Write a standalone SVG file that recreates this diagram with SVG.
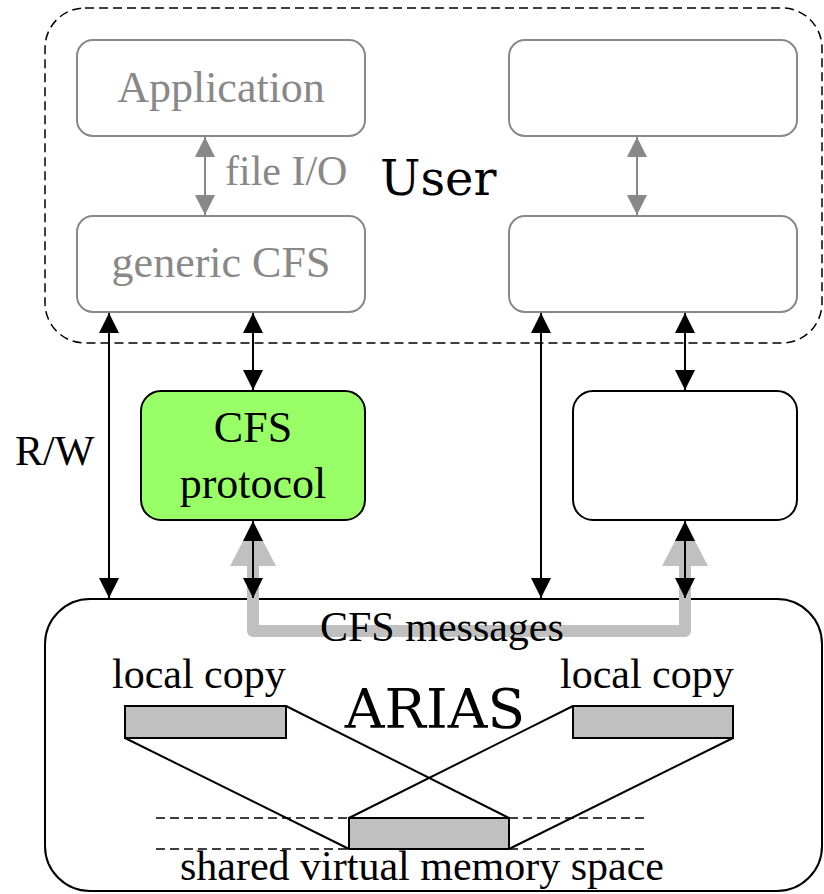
<svg xmlns="http://www.w3.org/2000/svg" width="824" height="894" viewBox="0 0 824 894" font-family="'Liberation Serif', serif">
  <style>
    text { font-family: "Liberation Serif", serif; }
    .t42 { font-size: 42px; }
    .t44 { font-size: 44px; }
    .big { font-family: "DejaVu Serif", serif; }
    .gbox { fill: #ffffff; stroke: #888888; stroke-width: 2; }
    .bbox { fill: #ffffff; stroke: #000000; stroke-width: 2; }
    .gtxt { fill: #888888; text-anchor: middle; }
    .mid { text-anchor: middle; }
    .blk { stroke: #000000; stroke-width: 2; fill: none; marker-start: url(#ah); marker-end: url(#ah); }
    .gry { stroke: #888888; stroke-width: 2; fill: none; marker-start: url(#ahg); marker-end: url(#ahg); }
    .mem { fill: #c0c0c0; stroke: #000000; stroke-width: 2; }
    .map { stroke: #000000; stroke-width: 2; fill: none; }
    .dash { stroke: #000000; stroke-width: 1.5; stroke-dasharray: 9 5; fill: none; }
  </style>
  <defs>
    <marker id="ah" viewBox="0 0 20 20" refX="20" refY="10" markerWidth="20" markerHeight="20" markerUnits="userSpaceOnUse" orient="auto-start-reverse">
      <path d="M0,0 L20,10 L0,20 z" fill="#000000"/>
    </marker>
    <marker id="ahg" viewBox="0 0 20 20" refX="20" refY="10" markerWidth="20" markerHeight="20" markerUnits="userSpaceOnUse" orient="auto-start-reverse">
      <path d="M0,0 L20,10 L0,20 z" fill="#888888"/>
    </marker>
    <marker id="ahw" viewBox="0 0 44 46" refX="0" refY="23" markerWidth="44" markerHeight="46" markerUnits="userSpaceOnUse" orient="auto-start-reverse">
      <path d="M0,0 L44,23 L0,46 z" fill="#c0c0c0"/>
    </marker>
  </defs>

  <!-- ARIAS runtime region -->
  <g id="arias">
    <rect x="45" y="599" width="777" height="292" rx="45" ry="45" fill="#ffffff" stroke="#000000" stroke-width="2"/>
  </g>
  <g id="local-copy-left">
    <text class="t42" x="112" y="688">local copy</text>
    <rect class="mem" x="125" y="706" width="161" height="32"/>
  </g>
  <g id="local-copy-right">
    <text class="t42" x="560" y="688">local copy</text>
    <rect class="mem" x="573" y="706" width="160" height="32"/>
  </g>
  <g id="shared-space">
    <line class="dash" x1="156" y1="818" x2="349" y2="818"/>
    <line class="dash" x1="509" y1="818" x2="649" y2="818"/>
    <line class="dash" x1="156" y1="849" x2="349" y2="849"/>
    <line class="dash" x1="509" y1="849" x2="649" y2="849"/>
    <rect class="mem" x="349" y="818" width="160" height="31"/>
    <text class="t42 mid" x="422" y="880">shared virtual memory space</text>
  </g>
  <g id="arias-label">
    <text class="big mid" font-size="55" x="435" y="728">ARIAS</text>
  </g>

  <!-- user space region -->
  <g id="user">
    <rect x="45" y="8" width="777" height="335" rx="40" ry="40" fill="none" stroke="#000000" stroke-width="1.5" stroke-dasharray="9 5"/>
    <text class="big" font-size="48" x="380" y="195">User</text>
  </g>

  <g id="application">
    <rect class="gbox" x="77" y="40" width="288" height="96" rx="16"/>
    <text class="t44 gtxt" x="221" y="102">Application</text>
  </g>
  <g id="generic-cfs">
    <rect class="gbox" x="77" y="216" width="288" height="96" rx="16"/>
    <text class="t44 gtxt" x="221" y="277">generic CFS</text>
  </g>
  <g id="app-right">
    <rect class="gbox" x="509" y="40" width="288" height="96" rx="16"/>
  </g>
  <g id="cfs-right">
    <rect class="gbox" x="509" y="216" width="288" height="96" rx="16"/>
  </g>

  <g id="cfs-protocol">
    <rect x="141" y="391" width="224" height="129" rx="20" fill="#99ff66" stroke="#000000" stroke-width="2"/>
    <text class="t44 mid" x="253" y="442">CFS</text>
    <text class="t44 mid" x="253" y="498">protocol</text>
  </g>
  <g id="protocol-right">
    <rect class="bbox" x="573" y="391" width="224" height="129" rx="20"/>
  </g>

  <g id="connectors">
    <!-- message channel between protocol instances -->
    <path d="M253,566 V631 H685 V566" fill="none" stroke="#c0c0c0" stroke-width="12" stroke-linejoin="round" marker-start="url(#ahw)" marker-end="url(#ahw)"/>
    <text class="t42" x="320" y="641">CFS messages</text>

    <!-- file I/O -->
    <line class="gry" x1="205" y1="137" x2="205" y2="215"/>
    <text class="t42" x="225" y="185" fill="#888888">file I/O</text>
    <line class="gry" x1="637" y1="137" x2="637" y2="215"/>

    <!-- R/W direct access -->
    <line class="blk" x1="109" y1="313" x2="109" y2="598"/>
    <text class="t42" x="15" y="465">R/W</text>
    <line class="blk" x1="541" y1="313" x2="541" y2="598"/>

    <!-- generic CFS to protocol -->
    <line class="blk" x1="253" y1="313" x2="253" y2="390"/>
    <line class="blk" x1="685" y1="313" x2="685" y2="390"/>

    <!-- protocol to ARIAS -->
    <line class="blk" x1="253" y1="521" x2="253" y2="598"/>
    <line class="blk" x1="685" y1="521" x2="685" y2="598"/>

    <!-- mapping of local copies onto shared space -->
    <line class="map" x1="286" y1="706" x2="509" y2="818"/>
    <line class="map" x1="125" y1="738" x2="349" y2="849"/>
    <line class="map" x1="573" y1="706" x2="349" y2="818"/>
    <line class="map" x1="733" y1="738" x2="509" y2="849"/>
  </g>
</svg>
